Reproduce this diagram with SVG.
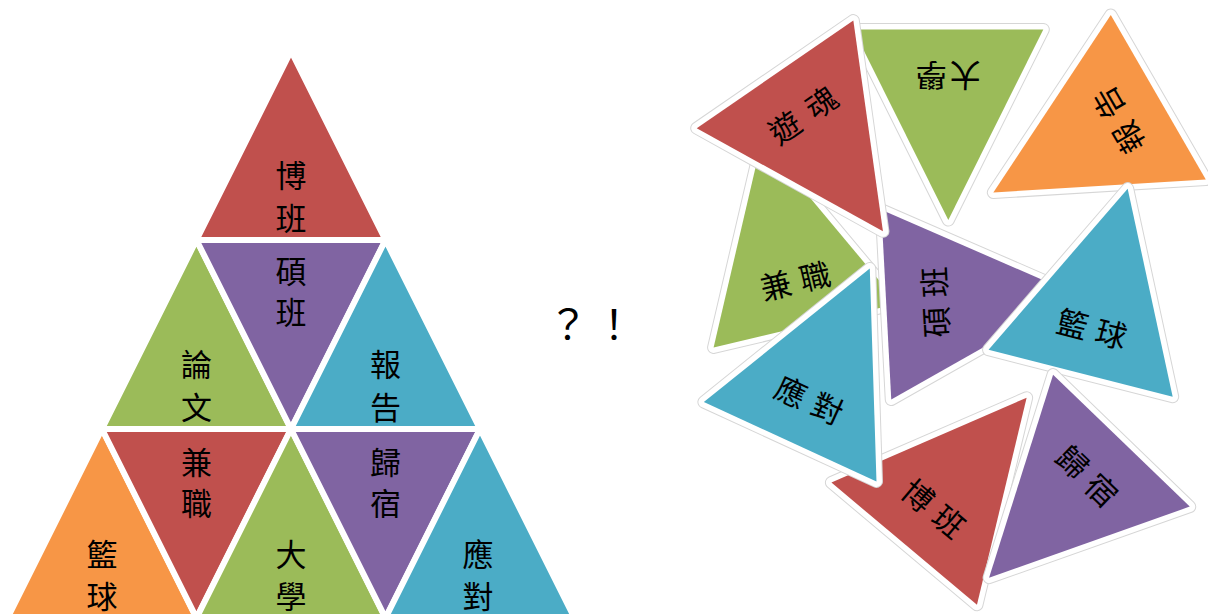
<svg xmlns="http://www.w3.org/2000/svg" width="1208" height="614" viewBox="0 0 1208 614">
<style>
.r{fill:#C0504D}.g{fill:#9BBB59}.p{fill:#8064A2}.b{fill:#4BACC6}.o{fill:#F79646}
.py polygon{stroke:#fff;stroke-width:6}
.t{font-family:"Noto Sans CJK TC","Noto Sans CJK SC",sans-serif;font-size:31px;fill:#000;text-anchor:middle;dominant-baseline:central}
.s{font-size:31px}
.sh{fill:none;stroke:#d6d6d6;stroke-width:13;stroke-linejoin:round}
.tf{stroke:#fff;stroke-width:11;stroke-linejoin:round;paint-order:stroke}
.q{font-family:"Noto Sans CJK TC","Noto Sans CJK SC",sans-serif;font-size:40px;fill:#000;text-anchor:middle;dominant-baseline:central}
</style>
<defs>
<polygon id="up" points="0,-127 -95,63.5 95,63.5"/>
<polygon id="dn" points="0,127 -95,-63.5 95,-63.5"/>
</defs>
<rect width="1208" height="614" fill="#fff"/>

<g id="pyramid" class="py">
<polygon points="291,51 7.5,618 574.5,618" fill="none" stroke="#d6d6d6" stroke-width="8"/>
<g id="p-bo"><polygon class="r" points="291,51 196.5,240 385.5,240"/><text class="t" x="291" y="173.5">博</text><text class="t" x="291" y="216">班</text></g>
<g id="p-lunwen"><polygon class="g" points="196.5,240 102,429 291,429"/><text class="t" x="196.5" y="362.5">論</text><text class="t" x="196.5" y="405">文</text></g>
<g id="p-shuo"><polygon class="p" points="196.5,240 385.5,240 291,429"/><text class="t" x="291" y="269">碩</text><text class="t" x="291" y="310">班</text></g>
<g id="p-baogao"><polygon class="b" points="385.5,240 291,429 480,429"/><text class="t" x="385.5" y="362.5">報</text><text class="t" x="385.5" y="405">告</text></g>
<g id="p-lanqiu"><polygon class="o" points="102,429 7.5,618 196.5,618"/><text class="t" x="102" y="552">籃</text><text class="t" x="102" y="594">球</text></g>
<g id="p-jianzhi"><polygon class="r" points="102,429 291,429 196.5,618"/><text class="t" x="196.5" y="460">兼</text><text class="t" x="196.5" y="501">職</text></g>
<g id="p-daxue"><polygon class="g" points="291,429 196.5,618 385.5,618"/><text class="t" x="291" y="552">大</text><text class="t" x="291" y="594">學</text></g>
<g id="p-guisu"><polygon class="p" points="291,429 480,429 385.5,618"/><text class="t" x="385.5" y="460">歸</text><text class="t" x="385.5" y="501">宿</text></g>
<g id="p-yingdui"><polygon class="b" points="480,429 385.5,618 574.5,618"/><text class="t" x="478" y="552">應</text><text class="t" x="478" y="594">對</text></g>
</g>

<g id="marks"><text class="q" x="568" y="322">？</text><text class="q" x="614" y="322">！</text></g>

<g id="scattered">
<g id="s-baogao" transform="translate(1103.3,129) rotate(-120)"><use href="#up" class="sh"/><use href="#up" class="o tf"/><text class="t s" x="-20" y="16">報</text><text class="t s" x="20" y="16">告</text></g>
<g id="s-daxue" transform="translate(948.3,93) rotate(180)"><use href="#up" class="sh"/><use href="#up" class="g tf"/><text class="t s" x="-17" y="16">大</text><text class="t s" x="17" y="16">學</text></g>
<g id="s-jianzhi" transform="translate(791.3,263.7) rotate(-13.4)"><use href="#up" class="sh"/><use href="#up" class="g tf"/><text class="t s" x="-20" y="16">兼</text><text class="t s" x="20" y="16">職</text></g>
<g id="s-shuo" transform="translate(949.7,301.3) rotate(-93)"><use href="#dn" class="sh"/><use href="#dn" class="p tf"/><text class="t s" x="-20" y="-16">碩</text><text class="t s" x="20" y="-16">班</text></g>
<g id="s-youhun" transform="translate(811,126.7) rotate(-34.5)"><use href="#dn" class="sh"/><use href="#dn" class="r tf"/><text class="t s" x="-22" y="-16">遊</text><text class="t s" x="22" y="-16">魂</text></g>
<g id="s-lanqiu" transform="translate(1096.3,311.7) rotate(14.3)"><use href="#up" class="sh"/><use href="#up" class="b tf"/><text class="t s" x="-20" y="16">籃</text><text class="t s" x="20" y="16">球</text></g>
<g id="s-bo" transform="translate(945,495) rotate(40)"><use href="#up" class="sh"/><use href="#up" class="r tf"/><text class="t s" x="-20" y="16">博</text><text class="t s" x="20" y="16">班</text></g>
<g id="s-yingdui" transform="translate(816.7,384) rotate(24.7)"><use href="#up" class="sh"/><use href="#up" class="b tf"/><text class="t s" x="-20" y="16">應</text><text class="t s" x="20" y="16">對</text></g>
<g id="s-guisu" transform="translate(1077.3,486.3) rotate(44)"><use href="#dn" class="sh"/><use href="#dn" class="p tf"/><text class="t s" x="-20" y="-16">歸</text><text class="t s" x="20" y="-16">宿</text></g>
</g>
</svg>
